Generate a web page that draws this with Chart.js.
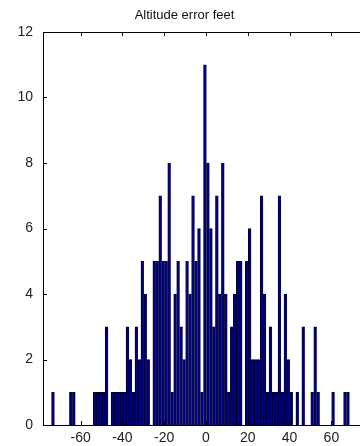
<!DOCTYPE html>
<html>
<head>
<meta charset="utf-8">
<script src="https://cdn.jsdelivr.net/npm/chart.js@4/dist/chart.umd.min.js"></script>
<style>
    html, body {margin: 0; padding: 0; background: #fff; overflow: hidden;}
    #wrap {position: absolute; left: 0; top: 0; width: 372px; height: 446px;}
</style>
</head>
<body>
<div id="wrap"><canvas id="histChart" width="372" height="446"></canvas></div>
<script>
// histogram of altitude error, 100 bins
const binStart = -73.9;
const binWidth = 1.426;
const counts = [
    1, 0, 0, 0, 0, 0, 1, 1, 0, 0,
    0, 0, 0, 0, 1, 1, 1, 1, 3, 0,
    1, 1, 1, 1, 1, 3, 2, 1, 3, 2,
    5, 4, 2, 0, 5, 5, 7, 5, 5, 8,
    1, 4, 5, 3, 2, 5, 4, 7, 5, 6,
    1, 11, 8, 6, 3, 7, 4, 8, 4, 1,
    3, 4, 5, 5, 0, 5, 6, 2, 2, 2,
    7, 4, 1, 3, 1, 1, 7, 1, 4, 2,
    1, 0, 1, 0, 3, 0, 0, 1, 3, 1,
    0, 0, 0, 0, 1, 0, 0, 0, 1, 1
];
const xTickValues = [-60, -40, -20, 0, 20, 40, 60];
const yTickValues = [0, 2, 4, 6, 8, 10, 12];
const chartTitle = 'Altitude error feet';

const bins = counts.map((c, i) => ({x: binStart + (i + 0.5) * binWidth, y: c}));
const tickLen = 4;
const fontFamily = 'Liberation Sans, Arial, sans-serif';

// matlab style box with inward ticks
const boxPlugin = {
    id: 'boxAxes',
    afterDraw(chart) {
        const {ctx, chartArea: a, scales} = chart;
        ctx.save();
        ctx.strokeStyle = '#000';
        ctx.lineWidth = 1;
        ctx.strokeRect(Math.round(a.left) + 0.5, Math.round(a.top) + 0.5,
            Math.round(a.right - a.left), Math.round(a.bottom - a.top));
        ctx.beginPath();
        scales.x.ticks.forEach(t => {
            const px = Math.round(scales.x.getPixelForValue(t.value)) + 0.5;
            ctx.moveTo(px, a.bottom);
            ctx.lineTo(px, a.bottom - tickLen);
            ctx.moveTo(px, a.top);
            ctx.lineTo(px, a.top + tickLen);
        });
        scales.y.ticks.forEach(t => {
            const py = Math.round(scales.y.getPixelForValue(t.value)) + 0.5;
            ctx.moveTo(a.left, py);
            ctx.lineTo(a.left + tickLen, py);
            ctx.moveTo(a.right, py);
            ctx.lineTo(a.right - tickLen, py);
        });
        ctx.stroke();
        ctx.restore();
    }
};

const ctx = document.getElementById('histChart').getContext('2d');
const chart = new Chart(ctx, {
    type: 'bar',
    data: {
        datasets: [{
            data: bins,
            backgroundColor: '#000078',
            borderColor: '#000010',
            borderWidth: {left: 0.8, top: 0.8, right: 0, bottom: 0},
            borderSkipped: false,
            barPercentage: 1,
            categoryPercentage: 1
        }]
    },
    options: {
        responsive: false,
        animation: false,
        devicePixelRatio: 1,
        layout: {padding: {left: 0, right: 3, top: 0, bottom: 0}},
        plugins: {
            legend: {display: false},
            tooltip: {enabled: false},
            title: {
                display: true,
                text: chartTitle,
                color: '#111',
                font: {family: fontFamily, size: 13, weight: 'normal'},
                padding: {top: 8, bottom: 8.4}
            }
        },
        scales: {
            x: {
                type: 'linear',
                min: -78, max: 78,
                offset: false,
                afterBuildTicks: scale => { scale.ticks = xTickValues.map(v => ({value: v})); },
                afterFit: scale => { scale.height = 21; },
                ticks: {
                    color: '#222',
                    padding: 5,
                    maxRotation: 0,
                    font: {family: fontFamily, size: 14}
                },
                grid: {display: false, drawTicks: false, offset: false},
                border: {display: false}
            },
            y: {
                min: 0, max: 12,
                afterBuildTicks: scale => { scale.ticks = yTickValues.map(v => ({value: v})); },
                afterFit: scale => { scale.width = 43; },
                ticks: {
                    color: '#222',
                    padding: 10,
                    font: {family: fontFamily, size: 14}
                },
                grid: {display: false, drawTicks: false},
                border: {display: false}
            }
        }
    },
    plugins: [boxPlugin]
});
</script>
</body>
</html>
